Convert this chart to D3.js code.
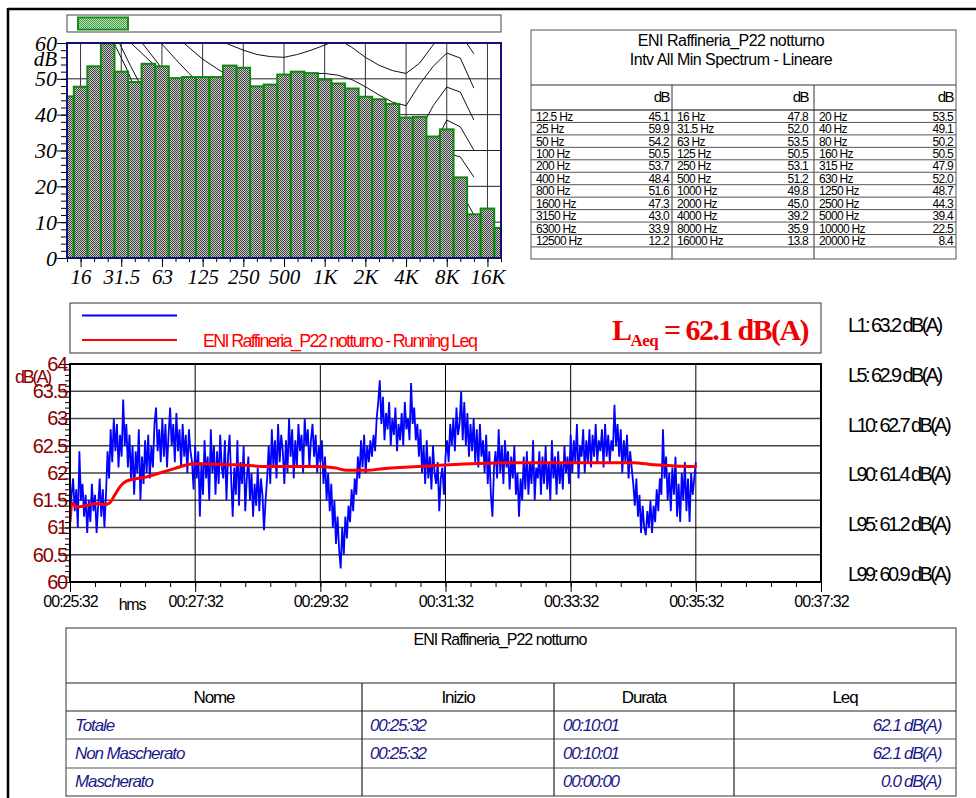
<!DOCTYPE html>
<html><head><meta charset="utf-8">
<script src="https://cdn.jsdelivr.net/npm/d3@7"></script>
<style>
html,body{margin:0;padding:0;background:#fff;}
svg{display:block;}
</style></head><body>
<svg id="c" width="976" height="798" font-family="Liberation Sans, Arial, sans-serif"></svg>
<script>
// ---------------- DATA ----------------
const bandNames = ["12.5 Hz","16 Hz","20 Hz","25 Hz","31.5 Hz","40 Hz","50 Hz","63 Hz","80 Hz","100 Hz","125 Hz","160 Hz","200 Hz","250 Hz","315 Hz","400 Hz","500 Hz","630 Hz","800 Hz","1000 Hz","1250 Hz","1600 Hz","2000 Hz","2500 Hz","3150 Hz","4000 Hz","5000 Hz","6300 Hz","8000 Hz","10000 Hz","12500 Hz","16000 Hz","20000 Hz"];
const bandValues = [45.1,47.8,53.5,59.9,52.0,49.1,54.2,53.5,50.2,50.5,50.5,50.5,53.7,53.1,47.9,48.4,51.2,52.0,51.6,49.8,48.7,47.3,45.0,44.3,43.0,39.2,39.4,33.9,35.9,22.5,12.2,13.8,8.4];
const specTickBands = [1,4,7,10,13,16,19,22,25,28,31];
const specTickLabels = ["16","31.5","63","125","250","500","1K","2K","4K","8K","16K"];
const specYTicks = [0,10,20,30,40,50,60];
// equal-loudness style contour lines (band index, dB)
const contour60 = [[10,63],[11,61],[12,59.5],[13,58],[14,56.8],[15,56.2],[16,56],[17,56.8],[18,58],[19,59.4],[20,61],[21,58.8],[22,56],[23,53.8],[24,52.3],[25,51.5],[26,54.4],[27,59.5],[28,64],[29,62.5],[30,57]];
const contour50 = [[8,62],[8.7,59.7],[10,55.5],[11,53],[12,50.5],[13,48.5],[14,47],[15,47.2],[16,49],[17,50.5],[18,51.5],[19,51.5],[20,51],[21,49.8],[22,47.8],[23,45.5],[24,43.5],[25,42.5],[26,48.5],[27,53.5],[28,57.2],[29,55.8],[30,47.4]];
const contour40 = [[6.5,63],[7,59.7],[8,55.5],[9,51.5],[10,48],[11,45.5],[12,43.5],[14,41],[16,40.2],[18,40.5],[19,41],[20,41],[21,40],[22,38.5],[23,36],[24,34],[25,33],[26,35.5],[27,42.5],[28,47.7],[29,46.3],[30,38.5]];
const contour30 = [[5,63],[5.6,59.7],[6.7,54.4],[8,47],[10,40],[12,35],[14,32],[16,30.5],[18,30.5],[19,31],[20,31],[21,30],[22,28],[23,26],[24,24],[25,23],[26,25],[27,31],[28,38.5],[29,36.6],[30,30.1]];
const contour20 = [[4,64],[4.8,59.7],[6.5,53.6],[8,44],[10,34],[12,27],[14,23],[16,21],[18,20.5],[19,21],[20,21],[21,20],[22,18],[23,16],[24,14],[25,13],[26,15],[27,21],[28,29.3],[29,28.2],[30,22.6]];
const contour10 = [[3.4,64],[3.9,59.7],[4.5,55],[6,44],[8,33],[10,24],[12,18],[14,14],[16,12],[18,11],[19,10],[20,10.5],[22,8],[24,4],[25,3],[26,5],[27,10],[28,18],[29,19],[30,12]];
const contour0 = [[3,64],[3.5,59.7],[4.5,52],[5,47],[6,38],[8,26],[10,17],[12,11],[14,7],[16,5],[18,4],[19,4],[20,3.5],[22,1],[24,-2],[25,-3],[26,-1],[27,4],[28,10],[29,11],[30,8]];

const tableTitle = ["ENI Raffineria_P22 notturno","Intv All Min Spectrum - Lineare"];

// time history (seconds from 00:25:32, dB(A))
const timeTickSeconds = [0,120,240,360,480,600,720];
const timeTickLabels = ["00:25:32","00:27:32","00:29:32","00:31:32","00:33:32","00:35:32","00:37:32"];
const levelTicks = [60,60.5,61,61.5,62,62.5,63,63.5,64];
const levelTickLabels = ["60","60.5","61","61.5","62","62.5","63","63.5","64"];
const blueStep = 1.5;
const blueValues = [
61.1,61.6,61.9,61.3,61.7,61.0,62.4,61.5,61.8,61.2,61.6,60.9,61.5,61.1,61.8,61.3,61.6,60.9,61.4,61.9,
61.2,61.7,61.0,61.6,62.4,61.9,62.8,62.2,63.0,62.4,62.9,62.1,62.7,62.3,63.35,62.5,62.9,62.1,62.7,61.9,
62.5,61.6,62.4,62.0,62.8,61.5,62.3,61.8,62.6,62.0,62.7,61.9,62.5,62.1,62.9,63.2,62.4,62.8,62.2,63.0,
62.3,62.9,62.1,62.7,63.2,62.5,62.9,62.2,63.1,62.4,62.8,62.1,62.9,62.3,62.7,62.0,62.8,62.4,62.2,61.7,
62.5,61.9,62.4,61.2,62.2,61.6,62.6,61.9,62.3,61.5,62.8,62.0,62.5,61.6,62.4,61.8,62.7,62.1,61.9,62.6,
61.5,62.3,62.7,61.9,61.2,62.1,61.6,62.6,61.4,62.2,61.8,62.5,61.3,61.9,62.3,61.5,62.0,61.2,61.8,61.4,
62.1,61.3,61.9,61.6,60.95,61.5,61.9,62.5,61.8,62.8,62.1,62.6,61.9,62.9,62.2,62.7,62.4,61.8,62.6,62.0,
63.0,62.3,62.8,61.9,62.6,62.1,62.9,62.4,62.7,62.0,63.0,62.5,62.8,62.1,62.6,62.9,62.3,62.7,62.0,62.5,
62.2,62.6,61.8,62.3,61.5,62.0,61.3,61.8,61.0,61.5,60.7,61.2,60.6,60.25,61.0,60.5,61.2,60.8,61.4,61.1,
61.7,61.3,61.9,61.6,62.3,61.9,62.6,62.1,62.7,62.0,62.5,62.2,62.6,62.3,62.7,62.4,63.0,63.3,63.7,62.9,
63.4,62.6,63.1,62.8,63.3,62.5,63.0,62.7,63.2,62.4,62.9,62.6,63.1,62.5,63.3,62.8,63.0,62.6,63.65,62.9,
63.2,62.6,62.9,62.3,62.8,62.0,62.5,61.8,62.6,61.9,62.3,61.7,62.5,62.0,61.8,62.2,61.3,61.9,62.1,61.6,
62.3,62.6,62.2,62.9,62.5,63.0,62.4,63.2,62.7,62.9,63.5,62.6,63.3,62.5,63.1,62.3,62.9,62.4,63.0,62.2,
62.8,62.1,62.9,62.3,62.6,62.0,62.7,61.8,62.4,61.6,61.2,62.1,62.4,61.9,62.8,62.0,62.5,61.8,62.6,62.1,
62.4,61.7,62.3,61.9,62.5,61.6,62.0,61.2,61.9,61.5,62.3,61.7,62.4,61.6,62.2,61.8,62.6,61.5,62.1,61.9,
62.4,61.6,62.3,61.8,62.5,61.7,62.2,61.5,62.6,61.9,62.3,61.6,62.4,61.8,62.2,61.7,62.5,62.0,62.3,61.8,
62.7,62.0,62.6,62.2,62.9,61.9,62.5,62.3,62.8,62.0,62.6,62.2,62.8,62.1,62.7,62.3,62.9,62.2,62.6,62.4,
62.8,62.1,62.9,62.3,62.7,62.2,62.6,62.4,63.25,62.5,62.9,62.3,62.8,62.0,62.6,62.2,62.7,61.9,62.4,62.1,
61.8,61.4,61.9,61.2,61.6,60.9,61.4,61.0,60.86,61.3,61.0,61.5,60.9,61.4,61.1,61.7,61.3,61.9,61.6,62.8,
61.9,62.3,61.5,62.0,61.3,62.1,61.6,62.3,61.2,61.8,61.1,62.0,61.5,62.2,61.3,61.9,61.1,62.0,61.6,61.9,62.2];
const runningLeq = [[0,61.1],[2,61.45],[6,61.38],[15,61.4],[25,61.44],[33,61.42],[38,61.45],[43,61.6],[48,61.75],[54,61.85],[64,61.9],[74,61.93],[86,62.0],[100,62.08],[112,62.15],[118,62.17],[140,62.16],[160,62.15],[189,62.12],[215,62.12],[240,62.12],[255,62.09],[265,62.05],[285,62.05],[300,62.08],[316,62.1],[345,62.13],[374,62.16],[400,62.18],[450,62.19],[500,62.19],[540,62.19],[560,62.15],[580,62.13],[601,62.12]];
const legendText = "ENI Raffineria_P22 notturno - Running Leq";
const laeqValue = "62.1";
const statNames = ["L1","L5","L10","L90","L95","L99"];
const statValues = ["63.2","62.9","62.7","61.4","61.2","60.9"];

const sumTitle = "ENI Raffineria_P22 notturno";
const sumHeaders = ["Nome","Inizio","Durata","Leq"];
const sumNames = ["Totale","Non Mascherato","Mascherato"];
const sumStart = ["00:25:32","00:25:32",""];
const sumDur = ["00:10:01","00:10:01","00:00:00"];
const sumLeq = ["62.1","62.1","0.0"];

// ---------------- DRAW ----------------
const SANS = "'Liberation Sans', Arial, sans-serif";
const SERIF = "'Liberation Serif', 'Times New Roman', serif";
const svg = d3.select("#c");
const defs = svg.append("defs");
function checker(id, dark, light){
  const p = defs.append("pattern").attr("id",id).attr("x",0).attr("y",0).attr("width",2).attr("height",2).attr("patternUnits","userSpaceOnUse");
  p.append("rect").attr("x",0).attr("y",0).attr("width",2).attr("height",2).attr("fill",light);
  p.append("rect").attr("x",0).attr("y",0).attr("width",1).attr("height",1).attr("fill",dark);
  p.append("rect").attr("x",1).attr("y",1).attr("width",1).attr("height",1).attr("fill",dark);
}
checker("chk","#000000","#ffffff");
checker("gchk","#1f8f1f","#e8f4e8");

// page frame
svg.append("line").attr("x1",8).attr("x2",976).attr("y1",9).attr("y2",9).attr("stroke","#000").attr("stroke-width",2.5);
svg.append("line").attr("x1",8).attr("x2",8).attr("y1",8).attr("y2",798).attr("stroke","#000").attr("stroke-width",2.5);

// ---- spectrum ----
const sx = d3.scaleLinear().domain([0,32]).range([67,501]);
const sy = d3.scaleLinear().domain([0,60]).range([258,43]);
const bw = sx(1)-sx(0);
defs.append("clipPath").attr("id","specClip").append("rect").attr("x",67).attr("y",43).attr("width",434).attr("height",215);

// scroll bar
svg.append("rect").attr("x",67).attr("y",15).attr("width",434).attr("height",17).attr("fill","#fff").attr("stroke","#444").attr("stroke-width",1);
svg.append("rect").attr("x",78).attr("y",17.5).attr("width",50).attr("height",12).attr("fill","#6fb86f").attr("stroke","#1a8a1a").attr("stroke-width",2);
svg.append("rect").attr("x",79).attr("y",18.5).attr("width",48).attr("height",10).attr("fill","url(#gchk)").attr("opacity",0.7);

const sp = svg.append("g").attr("clip-path","url(#specClip)");
sp.append("g").selectAll("line").data(specYTicks.filter(d=>d>0&&d<60)).join("line")
  .attr("x1",67).attr("x2",501).attr("y1",d=>sy(d)).attr("y2",d=>sy(d)).attr("stroke","#222").attr("stroke-width",1);
sp.append("g").selectAll("line").data(specTickBands).join("line")
  .attr("x1",d=>sx(d)).attr("x2",d=>sx(d)).attr("y1",43).attr("y2",258).attr("stroke","#333").attr("stroke-width",1);
const cline = d3.line().x(d=>sx(d[0])).y(d=>sy(d[1]));
sp.append("g").selectAll("path").data([contour0,contour10,contour20,contour30,contour40,contour50,contour60]).join("path")
  .attr("d",cline).attr("fill","none").attr("stroke","#111").attr("stroke-width",1);
const barG = sp.append("g");
barG.selectAll("rect.bb").data(bandValues).join("rect").attr("class","bb")
  .attr("x",(d,i)=>sx(i-0.5)).attr("width",bw).attr("y",d=>sy(d)).attr("height",d=>sy(0)-sy(d))
  .attr("fill","#8c8c8c");
barG.selectAll("rect.bp").data(bandValues).join("rect").attr("class","bp")
  .attr("x",(d,i)=>sx(i-0.5)).attr("width",bw).attr("y",d=>sy(d)).attr("height",d=>sy(0)-sy(d))
  .attr("fill","url(#chk)").attr("opacity",0.55);
barG.selectAll("rect.bs").data(bandValues).join("rect").attr("class","bs")
  .attr("x",(d,i)=>sx(i-0.5)).attr("width",bw).attr("y",d=>sy(d)).attr("height",d=>sy(0)-sy(d))
  .attr("fill","none").attr("stroke","#0f8a0f").attr("stroke-width",2);

// axes
const sxMinor = d3.axisBottom(sx).tickValues(d3.range(0,33)).tickSize(4).tickFormat("");
svg.append("g").attr("transform","translate(0,258)").call(sxMinor).call(g=>g.select(".domain").remove()).selectAll("line").attr("stroke","#000");
const sxMajor = d3.axisBottom(sx).tickValues(specTickBands).tickSize(9).tickPadding(2).tickFormat((d,i)=>specTickLabels[i]);
const gx = svg.append("g").attr("transform","translate(0,258)").call(sxMajor);
gx.select(".domain").remove();
gx.selectAll("line").attr("stroke","#000");
gx.selectAll("text").style("font-family",SERIF).style("font-style","italic").style("font-size","21px").attr("fill","#000");
const syMinor = d3.axisLeft(sy).tickValues(d3.range(0,61,2)).tickSize(6).tickFormat("");
svg.append("g").attr("transform","translate(67,0)").call(syMinor).call(g=>g.select(".domain").remove()).selectAll("line").attr("stroke","#000");
const syMajor = d3.axisLeft(sy).tickValues(specYTicks).tickSize(10).tickPadding(0).tickFormat(d3.format("d"));
const gy = svg.append("g").attr("transform","translate(67,0)").call(syMajor);
gy.select(".domain").remove();
gy.selectAll("line").attr("stroke","#000");
gy.selectAll("text").style("font-family",SERIF).style("font-style","italic").style("font-size","22px").attr("fill","#000");
svg.append("text").attr("x",57).attr("y",66).attr("text-anchor","end").style("font-family",SERIF).style("font-style","italic").style("font-size","21px").text("dB");
svg.append("rect").attr("x",67).attr("y",43).attr("width",434).attr("height",215).attr("fill","none").attr("stroke","#10107a").attr("stroke-width",2);

// ---- spectrum table ----
const tb = svg.append("g");
tb.append("rect").attr("x",531).attr("y",30).attr("width",425).attr("height",229).attr("fill","#fff").attr("stroke","#555").attr("stroke-width",1);
tb.selectAll("text.tt").data(tableTitle).join("text").attr("class","tt")
  .attr("x",731).attr("y",(d,i)=>46+i*19).attr("text-anchor","middle").attr("font-size",16).attr("letter-spacing",-0.5).text(d=>d);
tb.append("line").attr("x1",531).attr("x2",956).attr("y1",85).attr("y2",85).attr("stroke","#333");
tb.append("line").attr("x1",531).attr("x2",956).attr("y1",110).attr("y2",110).attr("stroke","#000").attr("stroke-width",1.2);
const colL = [536,677,819], colR = [669,808,953];
tb.selectAll("line.cd").data([672,814]).join("line").attr("class","cd")
  .attr("x1",d=>d).attr("x2",d=>d).attr("y1",85).attr("y2",259).attr("stroke","#333");
tb.selectAll("text.dbh").data(colR).join("text").attr("class","dbh")
  .attr("x",d=>d).attr("y",102).attr("text-anchor","end").attr("font-size",15).attr("letter-spacing",-1.5).text("dB");
const rowH = 12.45;
const rows = d3.range(11);
tb.selectAll("line.rl").data(rows).join("line").attr("class","rl")
  .attr("x1",531).attr("x2",956).attr("y1",r=>110+(r+1)*rowH).attr("y2",r=>110+(r+1)*rowH).attr("stroke","#555").attr("stroke-width",1);
bandNames.forEach((n,i)=>{
  const r = Math.floor(i/3), c = i%3;
  const yb = 110+(r+1)*rowH-1.8;
  tb.append("text").attr("x",colL[c]).attr("y",yb).attr("font-size",12).attr("letter-spacing",-0.7).text(n);
  tb.append("text").attr("x",colR[c]).attr("y",yb).attr("text-anchor","end").attr("font-size",12).attr("letter-spacing",-0.7).text(bandValues[i].toFixed(1));
});

// ---- legend box ----
svg.append("rect").attr("x",70).attr("y",303).attr("width",751).attr("height",50).attr("fill","#fff").attr("stroke","#333").attr("stroke-width",1);
svg.append("line").attr("x1",82).attr("x2",177).attr("y1",315.5).attr("y2",315.5).attr("stroke","#0000ff").attr("stroke-width",2);
svg.append("line").attr("x1",82).attr("x2",177).attr("y1",340).attr("y2",340).attr("stroke","#ff0000").attr("stroke-width",2);
svg.append("text").attr("x",203).attr("y",347).attr("font-size",18).attr("letter-spacing",-1.7).attr("fill","#ff0000").text(legendText);
const lq = svg.append("text").attr("x",612).attr("y",340).attr("fill","#ee0000").style("font-family",SERIF).style("font-weight","bold").style("font-size","30px").attr("letter-spacing",-1.6);
lq.append("tspan").text("L");
lq.append("tspan").style("font-size","17px").attr("dy",6).attr("letter-spacing",-0.5).text("Aeq");
lq.append("tspan").attr("dy",-6).text(" = " + laeqValue + " dB(A)");

// stats
svg.selectAll("text.st").data(statNames).join("text").attr("class","st")
  .attr("x",848).attr("y",(d,i)=>332+i*49.8).attr("font-size",20).attr("letter-spacing",-2.6).attr("fill","#000")
  .text((d,i)=>d+": "+statValues[i]+" dB(A)");

// ---- time history ----
const tx = d3.scaleLinear().domain([0,720]).range([70,821]);
const ty = d3.scaleLinear().domain([60,64]).range([582,364]);
defs.append("clipPath").attr("id","tClip").append("rect").attr("x",70).attr("y",364).attr("width",751).attr("height",218);
const tg = svg.append("g");
tg.selectAll("line.hg").data(levelTicks.filter(d=>d>60&&d<64)).join("line").attr("class","hg")
  .attr("x1",70).attr("x2",821).attr("y1",d=>ty(d)).attr("y2",d=>ty(d)).attr("stroke","#444").attr("stroke-width",1.5);
tg.selectAll("line.vg").data(timeTickSeconds.filter(d=>d>0&&d<720)).join("line").attr("class","vg")
  .attr("x1",d=>tx(d)).attr("x2",d=>tx(d)).attr("y1",364).attr("y2",582).attr("stroke","#000").attr("stroke-width",1);
const pg = svg.append("g").attr("clip-path","url(#tClip)");
pg.append("path").datum(blueValues).attr("fill","none").attr("stroke","#0000ff").attr("stroke-width",1.8)
  .attr("d",d3.line().x((d,i)=>tx(i*blueStep)).y(d=>ty(d)));
pg.append("path").datum(runningLeq).attr("fill","none").attr("stroke","#ff0000").attr("stroke-width",3)
  .attr("d",d3.line().x(d=>tx(d[0])).y(d=>ty(d[1])).curve(d3.curveMonotoneX));
// frame
svg.append("rect").attr("x",70).attr("y",364).attr("width",751).attr("height",218).attr("fill","none").attr("stroke","#000").attr("stroke-width",2);
// x axis
const txMinor = d3.axisBottom(tx).tickValues(d3.range(0,721,24)).tickSize(5).tickFormat("");
svg.append("g").attr("transform","translate(0,582)").call(txMinor).call(g=>g.select(".domain").remove()).selectAll("line").attr("stroke","#000");
const txMajor = d3.axisBottom(tx).tickValues(timeTickSeconds).tickSize(10).tickPadding(4).tickFormat((d,i)=>timeTickLabels[i]);
const gtx = svg.append("g").attr("transform","translate(0,582)").call(txMajor);
gtx.select(".domain").remove();
gtx.selectAll("line").attr("stroke","#000");
gtx.selectAll("text").style("font-family",SANS).style("font-size","16px").attr("letter-spacing",-1).attr("fill","#000");
svg.append("text").attr("x",132).attr("y",610).attr("text-anchor","middle").attr("font-size",16).attr("letter-spacing",-1.2).text("hms");
// y axis
const tyMinor = d3.axisLeft(ty).tickValues(d3.range(0,41).map(i=>60+i*0.1)).tickSize(5).tickFormat("");
svg.append("g").attr("transform","translate(70,0)").call(tyMinor).call(g=>g.select(".domain").remove()).selectAll("line").attr("stroke","#000");
const tyMajor = d3.axisLeft(ty).tickValues(levelTicks).tickSize(11).tickPadding(-8).tickFormat((d,i)=>levelTickLabels[i]);
const gty = svg.append("g").attr("transform","translate(70,0)").call(tyMajor);
gty.select(".domain").remove();
gty.selectAll("line").attr("stroke","#000");
gty.selectAll("text").style("font-family",SANS).style("font-size","20px").attr("letter-spacing",-1.2).attr("fill","#8b0000");
svg.append("text").attr("x",15).attr("y",383).attr("font-size",18).attr("letter-spacing",-2.2).attr("fill","#8b0000").text("dB(A)");

// ---- summary table ----
const st = svg.append("g");
st.append("rect").attr("x",66).attr("y",628).attr("width",890).attr("height",168).attr("fill","#fff").attr("stroke","#555").attr("stroke-width",1.2);
st.append("text").attr("x",500).attr("y",645).attr("text-anchor","middle").attr("font-size",16).attr("letter-spacing",-1).text(sumTitle);
[683,711,739,768].forEach((y,i)=>{
  st.append("line").attr("x1",66).attr("x2",956).attr("y1",y).attr("y2",y).attr("stroke",i<2?"#222":"#555").attr("stroke-width",1.2);
});
[362,554,734].forEach(x=>{
  st.append("line").attr("x1",x).attr("x2",x).attr("y1",683).attr("y2",796).attr("stroke","#222").attr("stroke-width",1.2);
});
const hdrX = [214,458,644,845];
st.selectAll("text.h").data(sumHeaders).join("text").attr("class","h")
  .attr("x",(d,i)=>hdrX[i]).attr("y",703).attr("text-anchor","middle").attr("font-size",17).attr("letter-spacing",-1.1).text(d=>d);
const rowY = [731,759,787];
sumNames.forEach((n,i)=>{
  st.append("text").attr("x",75).attr("y",rowY[i]).attr("font-size",17).attr("font-style","italic").attr("letter-spacing",-1.1).attr("fill","#1a1a8a").text(n);
  st.append("text").attr("x",370).attr("y",rowY[i]).attr("font-size",17).attr("font-style","italic").attr("letter-spacing",-1.3).attr("fill","#1a1a8a").text(sumStart[i]);
  st.append("text").attr("x",563).attr("y",rowY[i]).attr("font-size",17).attr("font-style","italic").attr("letter-spacing",-1.3).attr("fill","#1a1a8a").text(sumDur[i]);
  st.append("text").attr("x",941).attr("y",rowY[i]).attr("text-anchor","end").attr("font-size",17).attr("font-style","italic").attr("letter-spacing",-1.3).attr("fill","#1a1a8a").text(sumLeq[i]+" dB(A)");
});
</script>
</body></html>
